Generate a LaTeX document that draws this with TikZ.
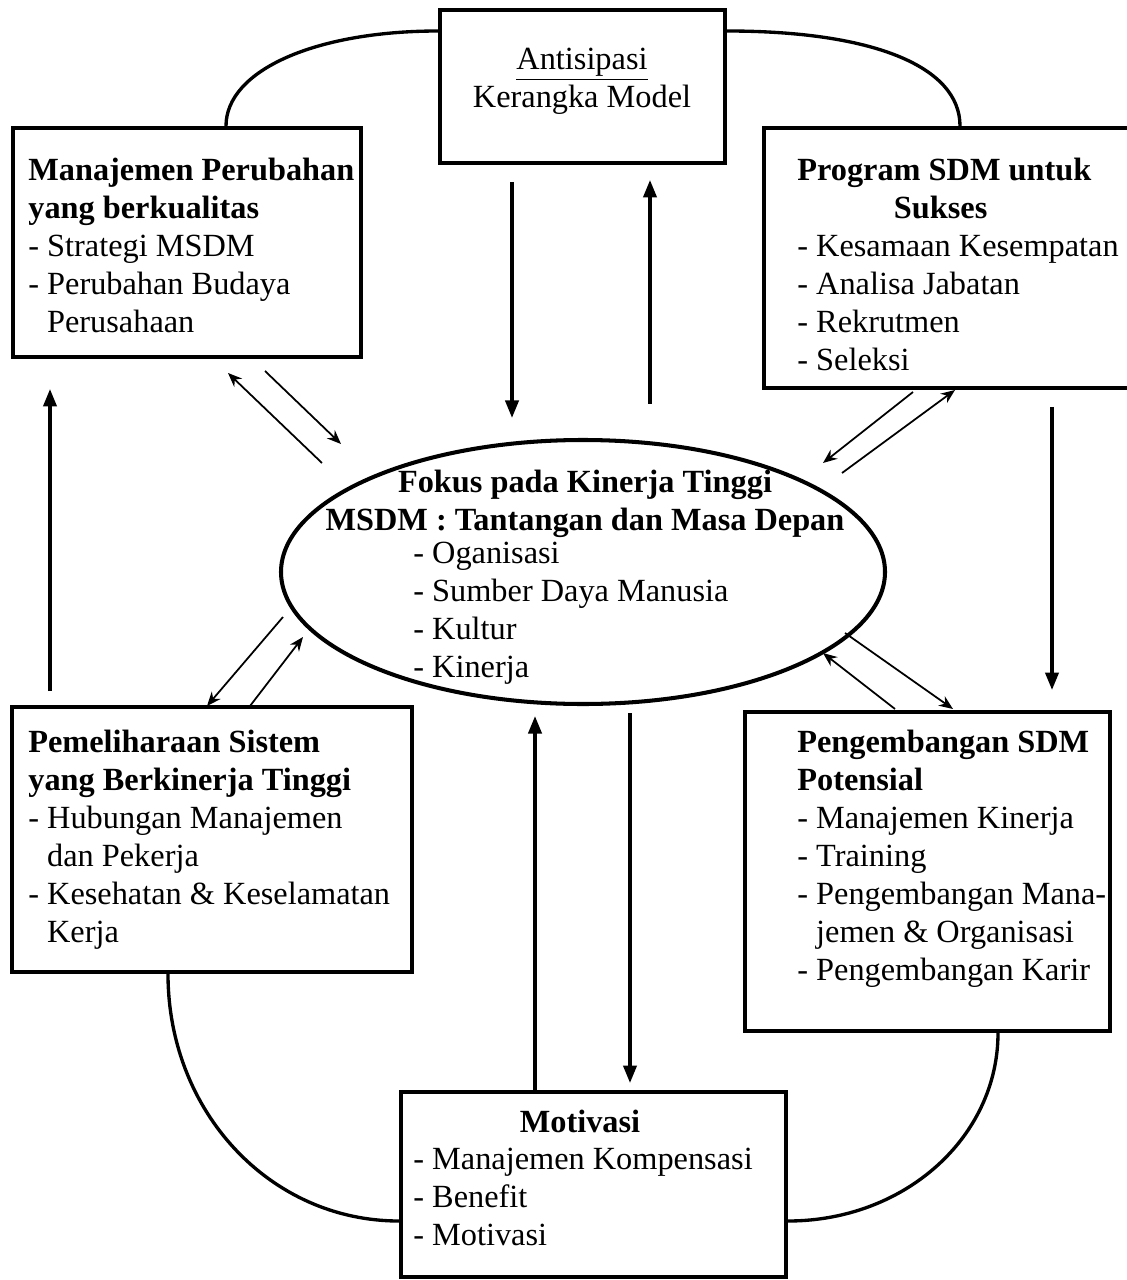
\documentclass[tikz,border=0pt]{standalone}
\usepackage{fontspec}
\setmainfont{Liberation Serif}
\usetikzlibrary{arrows.meta,shapes.geometric,fit}

\begin{document}
\begin{tikzpicture}[x=0.02cm,y=-0.02cm,
  box/.style={draw, line width=2.2pt, inner sep=0pt},
  txt/.style={anchor=north west, align=left, inner sep=0pt,
              font=\fontsize{18.4}{21.6}\selectfont},
  loopline/.style={line width=1.9pt},
  bigarrow/.style={line width=2pt, -{Triangle[length=10pt,width=7.5pt]}},
  thinarrow/.style={line width=1pt, -{Stealth[length=8pt,width=6.5pt]}},
]
\useasboundingbox (0,0) rectangle (1126,1280);
\fill[white] (0,0) rectangle (1126,1280);

% --- boxes and the central ellipse ---
\node[box, fit={(440,10)(725,163)}] (ant) {};
\node[box, fit={(13,128)(361,357)}] (mpb) {};
\node[box, fit={(764,128)(1130,388)}] (prog) {};
\node[box, fit={(12,707)(412,972)}] (pem) {};
\node[box, fit={(745,712)(1110,1031)}] (peng) {};
\node[box, fit={(401,1092)(786,1277)}] (mot) {};
\node[draw, ellipse, line width=2.3pt, inner sep=0pt,
      minimum width=604*0.02cm, minimum height=264*0.02cm] (ell) at (583,572) {};

% --- texts ---
\node[txt, anchor=north, align=center] (antT) at (582,48)
  {\underline{Antisipasi}\\Kerangka Model};
\node[txt] (mpbT) at (28,158)
  {\textbf{Manajemen Perubahan}\\\textbf{yang berkualitas}\\- Strategi MSDM\\- Perubahan Budaya\\\hspace*{10.7pt}Perusahaan};
\node[txt] (progT) at (797,158)
  {\textbf{Program SDM untuk}\\\hspace*{55pt}\textbf{Sukses}\\- Kesamaan Kesempatan\\- Analisa Jabatan\\- Rekrutmen\\- Seleksi};
\node[txt, anchor=north, align=center] (ellH) at (585,470)
  {\textbf{Fokus pada Kinerja Tinggi}\\\textbf{MSDM : Tantangan dan Masa Depan}};
\node[txt] (ellT) at (413,542)
  {- Oganisasi\\- Sumber Daya Manusia\\- Kultur\\- Kinerja};
\node[txt] (pemT) at (28,730)
  {\textbf{Pemeliharaan Sistem}\\\textbf{yang Berkinerja Tinggi}\\- Hubungan Manajemen\\\hspace*{10.7pt}dan Pekerja\\- Kesehatan \& Keselamatan\\\hspace*{10.7pt}Kerja};
\node[txt] (pengT) at (797,730)
  {\textbf{Pengembangan SDM}\\\textbf{Potensial}\\- Manajemen Kinerja\\- Training\\- Pengembangan Mana-\\\hspace*{10.7pt}jemen \& Organisasi\\- Pengembangan Karir};
\node[txt, anchor=north] (motH) at (580,1110) {\textbf{Motivasi}};
\node[txt] (motT) at (413,1148)
  {- Manajemen Kompensasi\\- Benefit\\- Motivasi};

% --- outer ring of curves ---
\coordinate (xTL) at (226,0);
\coordinate (xTR) at (960,0);
\coordinate (xBL) at (168,0);
\coordinate (xBR) at (998,0);
\coordinate (yTop) at (0,31);
\coordinate (yBot) at (0,1221);
\draw[loopline] (mpb.north -| xTL) .. controls +(0,-56) and +(-122,0) .. (ant.west |- yTop);
\draw[loopline] (ant.east |- yTop) .. controls +(145,0) and +(0,-60) .. (prog.north -| xTR);
\draw[loopline] (pem.south -| xBL) .. controls +(0,138) and +(-129,0) .. (mot.west |- yBot);
\draw[loopline] (mot.east |- yBot) .. controls +(117,0) and +(0,104) .. (peng.south -| xBR);

% --- thick vertical arrows ---
\coordinate (xA) at (512,0);
\coordinate (xB) at (650,0);
\coordinate (xC) at (535,0);
\coordinate (xD) at (630,0);
\coordinate (xE) at (50,0);
\coordinate (xF) at (1052,0);
\draw[bigarrow, shorten <=0.34cm, shorten >=0.4cm] (ant.south -| xA) -- (ell.north -| xA);
\draw[bigarrow, shorten <=0.68cm, shorten >=0.3cm] (ell.north -| xB) -- (ant.south -| xB);
\draw[bigarrow, shorten >=0.2cm] (mot.north -| xC) -- (ell.south -| xC);
\draw[bigarrow, shorten <=0.14cm, shorten >=0.14cm] (ell.south -| xD) -- (mot.north -| xD);
\draw[bigarrow, shorten <=0.28cm, shorten >=0.6cm] (pem.north -| xE) -- (mpb.south -| xE);
\draw[bigarrow, shorten <=0.34cm, shorten >=0.4cm] (prog.south -| xF) -- (peng.north -| xF);

% --- thin paired arrows around the ellipse ---
\coordinate (p1a) at (322,463); \coordinate (p1b) at (228,373);
\coordinate (p2a) at (265,371); \coordinate (p2b) at (341,444);
\coordinate (p3a) at (913,392); \coordinate (p3b) at (823,463);
\coordinate (p4a) at (842,473); \coordinate (p4b) at (955,390);
\coordinate (p5a) at (283,617); \coordinate (p5b) at (207,706);
\coordinate (p6a) at (250,706); \coordinate (p6b) at (303,637);
\coordinate (p7a) at (845,633); \coordinate (p7b) at (953,709);
\coordinate (p8a) at (895,709); \coordinate (p8b) at (823,653);
\draw[thinarrow] (p1a) -- (p1b);
\draw[thinarrow] (p2a) -- (p2b);
\draw[thinarrow] (p3a) -- (p3b);
\draw[thinarrow] (p4a) -- (p4b);
\draw[thinarrow] (p5a) -- (p5b);
\draw[thinarrow] (p6a) -- (p6b);
\draw[thinarrow] (p7a) -- (p7b);
\draw[thinarrow] (p8a) -- (p8b);
\end{tikzpicture}
\end{document}
